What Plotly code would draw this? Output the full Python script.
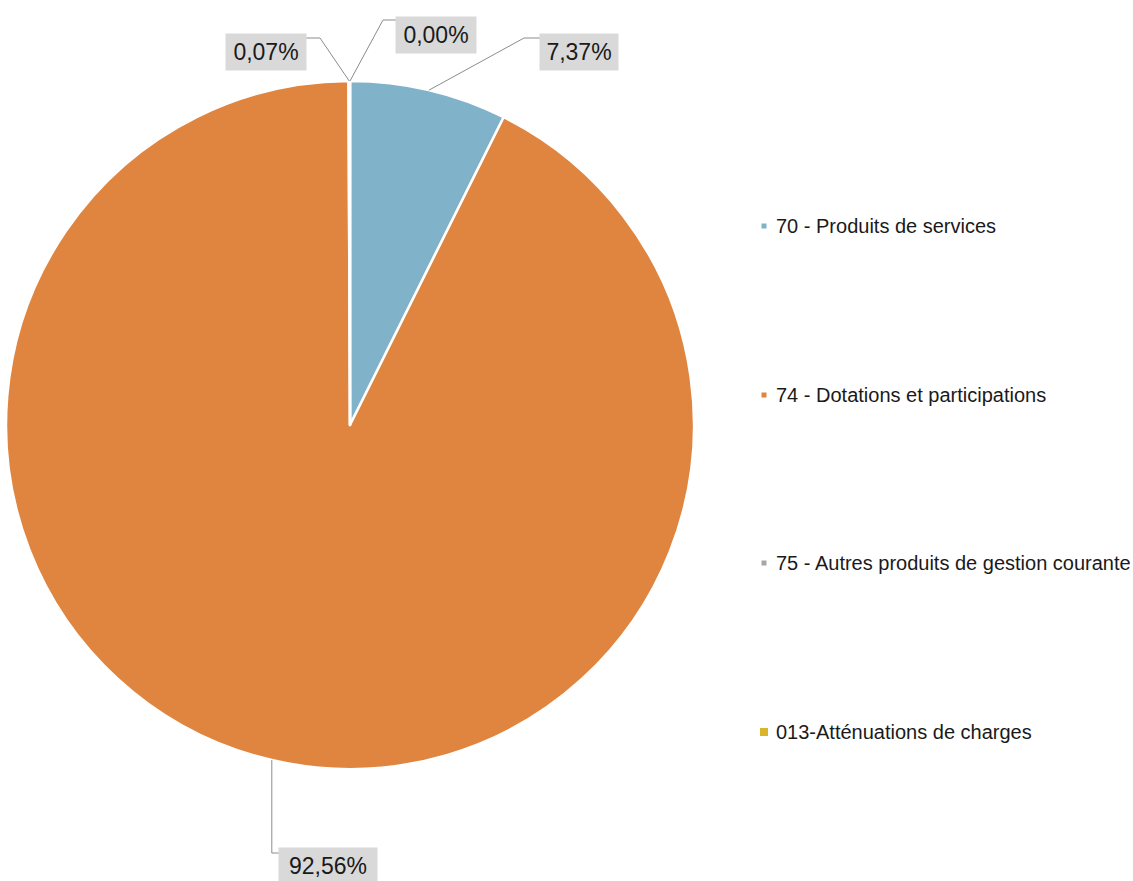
import math
import plotly.graph_objects as go

labels = ["70 - Produits de services", "74 - Dotations et participations",
          "75 - Autres produits de gestion courante", "013-Atténuations de charges"]
values = [7.37, 92.56, 0.07, 0.00]
text_labels = ["7,37%", "92,56%", "0,07%", "0,00%"]
colors = ["#80B3C9", "#E0853F", "#A6A6A6", "#D9B52B"]

W, H = 1133, 881
CX, CY, R = 350, 425, 344

def px(x):
    return x / W

def py(y):
    return 1 - y / H

fig = go.Figure(go.Pie(
    labels=labels, values=values, sort=False, direction="clockwise", rotation=0,
    marker=dict(colors=colors, line=dict(color="white", width=2.5)),
    textinfo="none", hoverinfo="label+percent", showlegend=False,
    domain=dict(x=[px(CX - R), px(CX + R)], y=[py(CY + R), py(CY - R)]),
))

# anchor points on the pie edge computed from the data (mid-angle of each slice)
total = sum(values)
anchors = []
cum = 0
for v in values:
    mid = (cum + v / 2) / total * 2 * math.pi
    anchors.append((CX + R * math.sin(mid), CY - R * math.cos(mid)))
    cum += v

# label boxes: (center x, center y, width) and leader path elbows
label_boxes = [(579, 52, 76), (328, 866, 96), (266, 52, 78), (436, 35, 78)]
elbows = [
    lambda a, b: [(524, 38), (b[0] - b[2] / 2, 38)],
    lambda a, b: [(a[0], 853), (b[0] - b[2] / 2, 853)],
    lambda a, b: [(320, 38), (b[0] + b[2] / 2, 38)],
    lambda a, b: [(383, 20), (b[0] - b[2] / 2, 20)],
]

shapes = []
annotations = []
for i, (t, box) in enumerate(zip(text_labels, label_boxes)):
    a = anchors[i]
    pts = [a] + elbows[i](a, box)
    path = "M " + " L ".join(f"{px(x)},{py(y)}" for x, y in pts)
    shapes.append(dict(type="path", path=path, xref="paper", yref="paper",
                       line=dict(color="#8C8C8C", width=1)))
    annotations.append(dict(text=t, x=px(box[0]), y=py(box[1]), xref="paper", yref="paper",
                            xanchor="center", yanchor="middle", showarrow=False,
                            bgcolor="#D9D9D9", width=box[2], height=34,
                            font=dict(family="Liberation Sans, Arial", size=23, color="#1A1A1A")))

# manual legend
legend_y = [226, 395, 563, 732]
marker_sz = [5, 5, 5, 8]
for lab, col, y, s in zip(labels, colors, legend_y, marker_sz):
    mx = 764
    shapes.append(dict(type="rect", xref="paper", yref="paper",
                       x0=px(mx - s / 2), x1=px(mx + s / 2), y0=py(y + s / 2), y1=py(y - s / 2),
                       fillcolor=col, line=dict(width=0)))
    annotations.append(dict(text=lab, x=px(774), y=py(y), xref="paper", yref="paper",
                            xanchor="left", yanchor="middle", showarrow=False,
                            font=dict(family="Liberation Sans, Arial", size=20, color="#1A1A1A")))

fig.update_layout(
    width=W, height=H, margin=dict(l=0, r=0, t=0, b=0),
    paper_bgcolor="white", plot_bgcolor="white",
    shapes=shapes, annotations=annotations,
)

fig.write_html("out.html")
